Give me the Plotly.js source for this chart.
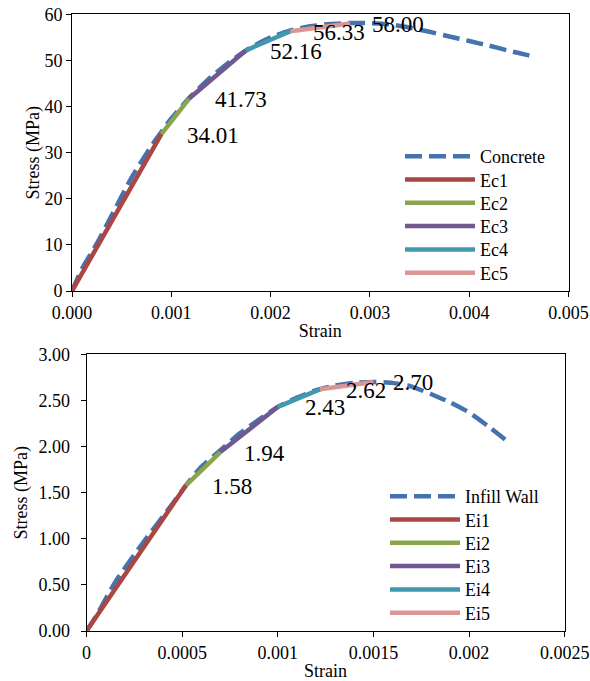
<!DOCTYPE html>
<html>
<head>
<meta charset="utf-8">
<script src="https://cdn.plot.ly/plotly-3.0.1.min.js"></script>
<style>html,body{margin:0;padding:0;background:#fff;}#chart{width:590px;height:681px;}</style>
</head>
<body>
<div id="chart"></div>
<script>
// ---- Data: Concrete (top panel) ----
var concreteStrain = [0, 0.0001, 0.00025, 0.0004, 0.0006, 0.0008, 0.001, 0.0012, 0.0014, 0.0016, 0.0018, 0.002, 0.0022, 0.0024, 0.0026, 0.0028, 0.003, 0.0032, 0.0034, 0.0036, 0.0038, 0.004, 0.0042, 0.0044, 0.0046, 0.00467];
var concreteStress = [0, 4.8, 10.3, 16.4, 24.6, 31.5, 37.4, 42.3, 46.4, 49.9, 52.8, 55.0, 56.5, 57.4, 57.9, 58.1, 58.1, 57.8, 57.1, 56.2, 55.2, 54.2, 53.2, 52.1, 51.1, 50.8];
var ecNames = ["Ec1", "Ec2", "Ec3", "Ec4", "Ec5"];
var ecStrain = [0, 0.0009, 0.00118, 0.00175, 0.0022, 0.0028];
var ecStress = [0, 34.01, 41.73, 52.16, 56.33, 58.00];

// ---- Data: Infill wall (bottom panel) ----
var infillStrain = [0, 0.00005, 0.00015, 0.0003, 0.00045, 0.00052, 0.0006, 0.0007, 0.0008, 0.0009, 0.001, 0.0011, 0.0012, 0.0013, 0.0014, 0.0015, 0.0016, 0.0017, 0.0018, 0.0019, 0.002, 0.0021, 0.00221];
var infillStress = [0, 0.16, 0.53, 0.97, 1.38, 1.58, 1.78, 1.96, 2.14, 2.29, 2.43, 2.53, 2.61, 2.66, 2.69, 2.70, 2.69, 2.65, 2.57, 2.48, 2.37, 2.22, 2.04];
var eiNames = ["Ei1", "Ei2", "Ei3", "Ei4", "Ei5"];
var eiStrain = [0, 0.00052, 0.0007, 0.001, 0.00122, 0.0015];
var eiStress = [0, 1.58, 1.94, 2.43, 2.62, 2.70];

// ---- Tick labels ----
var topXTicks = [0, 0.001, 0.002, 0.003, 0.004, 0.005];
var topXTickText = ["0.000", "0.001", "0.002", "0.003", "0.004", "0.005"];
var topYTicks = [0, 10, 20, 30, 40, 50, 60];
var topYTickText = ["0", "10", "20", "30", "40", "50", "60"];
var botXTicks = [0, 0.0005, 0.001, 0.0015, 0.002, 0.0025];
var botXTickText = ["0", "0.0005", "0.001", "0.0015", "0.002", "0.0025"];
var botYTicks = [0, 0.5, 1, 1.5, 2, 2.5, 3];
var botYTickText = ["0.00", "0.50", "1.00", "1.50", "2.00", "2.50", "3.00"];

// ---- Styles ----
var FONT = "'Liberation Serif', 'Times New Roman', Times, serif";
var dashColor = "#4573AD";
var segColors = ["#AA4643", "#89A54E", "#71588F", "#4198AF", "#D99694"];
var LW = 4.5;
var W = 590, H = 681;
var topLabelShift = [23.5, 23.5, 22, 21, 20];   // px offsets of value labels
var botLabelShift = [24.5, 22, 25, 24, 18];

var layout = {
  width: W, height: H, margin: {l: 0, r: 0, t: 0, b: 0},
  paper_bgcolor: "#fff", plot_bgcolor: "#fff", showlegend: true,
  font: {family: FONT, color: "#000"}
};

// one small legend per entry, so the entry spacing can match the reference
var legendCount = 0;
function newLegend(px, py) {
  legendCount++;
  var id = legendCount === 1 ? "legend" : "legend" + legendCount;
  layout[id] = {x: px / W, y: 1 - py / H, xanchor: "left", yanchor: "top",
    bgcolor: "rgba(0,0,0,0)", borderwidth: 0, itemwidth: 70,
    font: {family: FONT, size: 18, color: "#000"}};
  return id;
}

var traces = [];
function addPanel(curveName, cx, cy, segNames, sx, sy, xa, ya, legX, legY) {
  var step = 23.3;
  traces.push({
    x: cx, y: cy, name: curveName, mode: "lines", type: "scatter",
    xaxis: xa, yaxis: ya, legend: newLegend(legX, legY),
    line: {color: dashColor, width: LW, dash: "17px,7px", shape: "spline", smoothing: 0.5},
    hoverinfo: "skip"
  });
  for (var i = 0; i < segNames.length; i++) {
    traces.push({
      x: [sx[i], sx[i + 1]], y: [sy[i], sy[i + 1]], name: segNames[i],
      mode: "lines", type: "scatter", xaxis: xa, yaxis: ya,
      legend: newLegend(legX, legY + (i + 1) * step),
      line: {color: segColors[i], width: LW}, hoverinfo: "skip"
    });
  }
}
addPanel("Concrete", concreteStrain, concreteStress, ecNames, ecStrain, ecStress, "x", "y", 400, 138);
addPanel("Infill Wall", infillStrain, infillStress, eiNames, eiStrain, eiStress, "x2", "y2", 385, 478);

var annotations = [];
function addLabels(sx, sy, xref, yref, shifts) {
  for (var i = 1; i < sx.length; i++) {
    annotations.push({
      x: sx[i], y: sy[i], xref: xref, yref: yref, text: sy[i].toFixed(2),
      showarrow: false, xanchor: "left", yanchor: "middle", xshift: shifts[i - 1], yshift: -1,
      font: {family: FONT, size: 23, color: "#000"}
    });
  }
}
addLabels(ecStrain, ecStress, "x", "y", topLabelShift);
addLabels(eiStrain, eiStress, "x2", "y2", botLabelShift);
layout.annotations = annotations;

function axisBase() {
  return {
    showgrid: false, zeroline: false, showline: true, linecolor: "#000", linewidth: 1,
    mirror: true, ticks: "outside", ticklen: 5, tickcolor: "#000", tickwidth: 1,
    tickfont: {family: FONT, size: 18, color: "#000"}, automargin: false, fixedrange: true
  };
}
function titleObj(t, s) { return {text: t, font: {family: FONT, size: 18, color: "#000"}, standoff: s}; }
layout.xaxis = Object.assign(axisBase(), {domain: [72/W, 568.5/W], range: [0, 0.005], tickmode: "array", tickvals: topXTicks, ticktext: topXTickText, anchor: "y", title: titleObj("Strain", 2)});
layout.yaxis = Object.assign(axisBase(), {domain: [1 - 291/H, 1 - 14.3/H], range: [0, 60], tickmode: "array", tickvals: topYTicks, ticktext: topYTickText, anchor: "x", title: titleObj("Stress (MPa)", 0)});
layout.xaxis2 = Object.assign(axisBase(), {domain: [86.5/W, 564.7/W], range: [0, 0.0025], tickmode: "array", tickvals: botXTicks, ticktext: botXTickText, anchor: "y2", title: titleObj("Strain", 3)});
layout.yaxis2 = Object.assign(axisBase(), {domain: [1 - 631/H, 1 - 354.3/H], range: [0, 3], tickmode: "array", tickvals: botYTicks, ticktext: botYTickText, anchor: "x2", ticklabelstandoff: 7, title: titleObj("Stress (MPa)", 6)});

Plotly.newPlot("chart", traces, layout, {displayModeBar: false, staticPlot: true});
</script>
</body>
</html>
